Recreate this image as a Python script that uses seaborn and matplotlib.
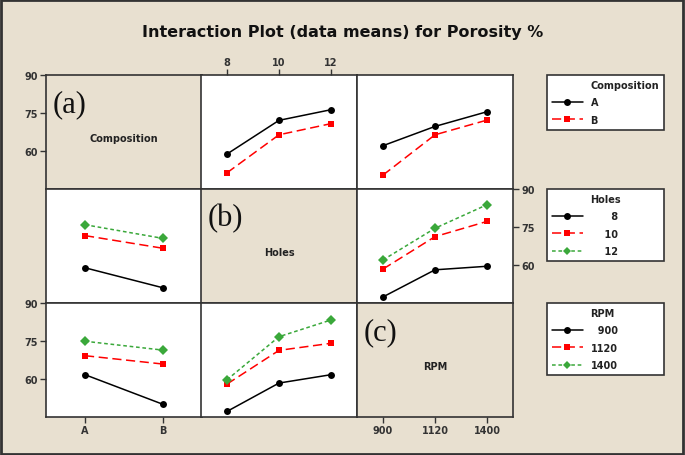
import pandas as pd
import matplotlib
matplotlib.use('Agg')
import matplotlib.pyplot as plt
from matplotlib.lines import Line2D
from matplotlib.patches import Rectangle
import seaborn as sns

# factor levels
comp_levels = ['A', 'B']
holes_levels = ['8', '10', '12']
rpm_levels = ['900', '1120', '1400']

# Composition traces (row 1)
comp_A_vs_holes = [58.8, 72.1, 76.3]
comp_B_vs_holes = [51.4, 66.4, 70.8]
comp_A_vs_rpm = [62.1, 69.7, 75.5]
comp_B_vs_rpm = [50.5, 66.4, 72.2]

# Holes traces (row 2)
holes_8_vs_comp = [58.9, 51.0]
holes_10_vs_comp = [71.6, 66.6]
holes_12_vs_comp = [75.9, 70.5]
holes_8_vs_rpm = [47.4, 58.1, 59.5]
holes_10_vs_rpm = [58.4, 71.2, 77.2]
holes_12_vs_rpm = [62.0, 74.5, 83.8]

# RPM traces (row 3)
rpm_900_vs_comp = [61.7, 50.0]
rpm_1120_vs_comp = [69.2, 65.9]
rpm_1400_vs_comp = [74.9, 71.4]
rpm_900_vs_holes = [47.2, 58.4, 61.7]
rpm_1120_vs_holes = [58.0, 71.3, 74.1]
rpm_1400_vs_holes = [59.7, 76.7, 83.3]

y_ticks = [60, 75, 90]

bg = '#e8e0d0'
colors = ['black', '#ff0000', '#3aa83a']
markers = ['o', 's', 'D']
dashes = ['', (6, 3), (2.4, 1.8)]
spine_col = '#333333'

sns.set_theme(style='white')
plt.rcParams['font.family'] = ['DejaVu Sans']


def long_df(names, series):
    rows = []
    for name, vals in zip(names, series):
        for i, v in enumerate(vals):
            rows.append((i, v, name))
    return pd.DataFrame(rows, columns=['pos', 'mean', 'group'])


def draw(ax, names, series):
    df = long_df(names, series)
    n = len(names)
    sns.lineplot(data=df, x='pos', y='mean', hue='group', style='group',
                 hue_order=names, style_order=names,
                 palette=colors[:n], markers=markers[:n], dashes=dashes[:n],
                 markersize=5, markeredgewidth=0, linewidth=1.1,
                 legend=False, ax=ax)


fig = plt.figure(figsize=(6.85, 4.56), dpi=100, facecolor=bg)
W, H = 685, 456
col_left = [46, 201, 357]
row_top = [76, 190, 304]
pw, ph = 156, 114

levels = [comp_levels, holes_levels, rpm_levels]
axes = [[None] * 3 for _ in range(3)]
for r in range(3):
    for c in range(3):
        ax = fig.add_axes([col_left[c] / W, 1 - (row_top[r] + ph) / H, pw / W, ph / H])
        ax.set_xlim(-0.5, len(levels[c]) - 0.5)
        ax.set_ylim(45, 90)
        ax.set_facecolor(bg if r == c else 'white')
        for s in ax.spines.values():
            s.set_color(spine_col)
            s.set_linewidth(1.2)
        ax.tick_params(left=False, bottom=False, right=False, top=False,
                       labelleft=False, labelbottom=False,
                       labelright=False, labeltop=False,
                       length=4, width=1, color=spine_col, pad=2,
                       labelsize=7, labelcolor='#333333')
        axes[r][c] = ax

draw(axes[0][1], comp_levels, [comp_A_vs_holes, comp_B_vs_holes])
draw(axes[0][2], comp_levels, [comp_A_vs_rpm, comp_B_vs_rpm])
draw(axes[1][0], holes_levels, [holes_8_vs_comp, holes_10_vs_comp, holes_12_vs_comp])
draw(axes[1][2], holes_levels, [holes_8_vs_rpm, holes_10_vs_rpm, holes_12_vs_rpm])
draw(axes[2][0], rpm_levels, [rpm_900_vs_comp, rpm_1120_vs_comp, rpm_1400_vs_comp])
draw(axes[2][1], rpm_levels, [rpm_900_vs_holes, rpm_1120_vs_holes, rpm_1400_vs_holes])

for r in range(3):
    for c in range(3):
        axes[r][c].set_xlabel('')
        axes[r][c].set_ylabel('')
        axes[r][c].set_xticks(range(len(levels[c])))
        axes[r][c].set_yticks(y_ticks)

# alternating axis labels, Minitab style
for r in (0, 2):
    axes[r][0].tick_params(left=True, labelleft=True)
    axes[r][0].set_yticklabels([str(t) for t in y_ticks], fontweight='bold')
axes[1][2].tick_params(right=True, labelright=True)
axes[1][2].set_yticklabels([str(t) for t in y_ticks], fontweight='bold')
axes[0][1].tick_params(top=True, labeltop=True)
axes[0][1].set_xticklabels(holes_levels, fontweight='bold')
axes[2][0].tick_params(bottom=True, labelbottom=True)
axes[2][0].set_xticklabels(comp_levels, fontweight='bold')
axes[2][2].tick_params(bottom=True, labelbottom=True)
axes[2][2].set_xticklabels(rpm_levels, fontweight='bold')

# diagonal labels
factor_names = ['Composition', 'Holes', 'RPM']
tags = ['(a)', '(b)', '(c)']
for i in range(3):
    ax = axes[i][i]
    ax.text(0.5, 0.45, factor_names[i], transform=ax.transAxes, ha='center',
            va='center', fontsize=7, fontweight='bold', color='#222222')
    ax.text(0.04, 0.75, tags[i], transform=ax.transAxes, ha='left',
            va='center', fontsize=22, family=['Liberation Serif'], color='#111111')

fig.text(0.5, 1 - 33 / H, 'Interaction Plot (data means) for Porosity %',
         ha='center', va='center', fontsize=11.5, fontweight='bold', color='#111111')

# legends: title placed as first row so it lines up with the labels
legend_tops = [76, 190, 304]
fs = '\u2007'
legend_labels = [comp_levels,
                 [fs * (4 - len(l)) + l for l in holes_levels],
                 [fs * (4 - len(l)) + l for l in rpm_levels]]
for k in range(3):
    handles = [Line2D([], [], linestyle='none', label=factor_names[k])]
    for j, lab in enumerate(legend_labels[k]):
        handles.append(Line2D([], [], color=colors[j], marker=markers[j],
                              markersize=5 if j < 2 else 4.5, markeredgewidth=0,
                              linewidth=1.1,
                              linestyle='-' if j == 0 else (0, dashes[j]),
                              label=lab))
    leg = fig.legend(handles=handles, loc='upper left',
                     bbox_to_anchor=(542 / W, 1 - legend_tops[k] / H, 127 / W, 0.01),
                     mode='expand', fontsize=7,
                     frameon=True, fancybox=False, edgecolor=spine_col,
                     facecolor='white', framealpha=1, handlelength=3.2,
                     labelspacing=0.75, borderpad=0.5, handletextpad=0.8)
    leg.get_frame().set_linewidth(1.2)
    for t in leg.get_texts():
        t.set_fontweight('bold')
        t.set_color('#222222')

fig.patches.append(Rectangle((0.002, 0.003), 0.995, 0.994, transform=fig.transFigure,
                             fill=False, edgecolor='#333333', linewidth=2))

fig.savefig('out.png', dpi=100, facecolor=bg)
